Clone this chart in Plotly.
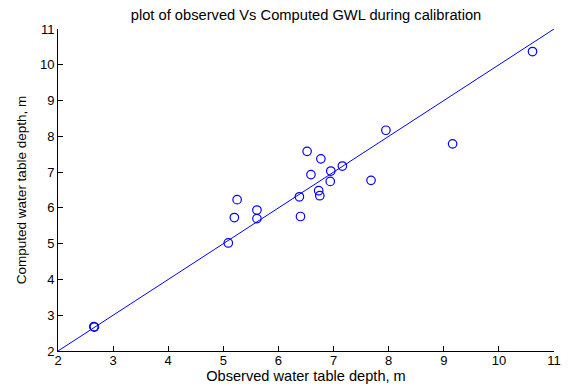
import plotly.graph_objects as go

observed = [2.65, 2.66, 5.09, 5.20, 5.25, 5.61, 5.61, 6.38, 6.40, 6.52, 6.59, 6.73, 6.75,
            6.77, 6.94, 6.95, 7.16, 7.68, 7.95, 9.16, 10.61]
computed = [2.68, 2.67, 5.02, 5.73, 6.23, 5.94, 5.70, 6.31, 5.76, 7.58, 6.93, 6.48, 6.34,
            7.37, 6.74, 7.03, 7.17, 6.77, 8.17, 7.79, 10.37]
line_x = [2, 11]
line_y = [2, 11]
ticks = [2, 3, 4, 5, 6, 7, 8, 9, 10, 11]

blue = "#0000ff"
fig = go.Figure()
fig.add_trace(go.Scatter(x=observed, y=computed, mode="markers",
                         marker=dict(symbol="circle-open", size=8.5, color=blue,
                                     line=dict(width=1.2, color=blue)),
                         showlegend=False))
fig.add_trace(go.Scatter(x=line_x, y=line_y, mode="lines",
                         line=dict(color=blue, width=1), showlegend=False))

font = "Liberation Sans, Arial, sans-serif"
axis_common = dict(range=[2, 11], tickvals=ticks, ticks="inside", ticklen=5,
                   tickcolor="black", showline=True, linecolor="black", linewidth=1,
                   showgrid=False, zeroline=False, mirror=False, automargin=False,
                   tickfont=dict(family=font, size=13, color="black"))
fig.update_layout(
    width=571, height=388,
    margin=dict(l=58, r=17, t=29, b=37),
    paper_bgcolor="white", plot_bgcolor="white",
    title=dict(text="plot of observed Vs Computed GWL during calibration",
               x=0.5, xref="paper", xanchor="center", y=1 - 15 / 388, yanchor="middle",
               font=dict(family=font, size=14.7, color="black")),
    xaxis=dict(**axis_common, ticklabelstandoff=-3,
               title=dict(text="Observed water table depth, m", standoff=2,
                          font=dict(family=font, size=14.6, color="black"))),
    yaxis=dict(**axis_common,
               title=dict(text="Computed water table depth, m", standoff=10,
                          font=dict(family=font, size=13.5, color="black"))),
)
fig.write_html("out.html")
